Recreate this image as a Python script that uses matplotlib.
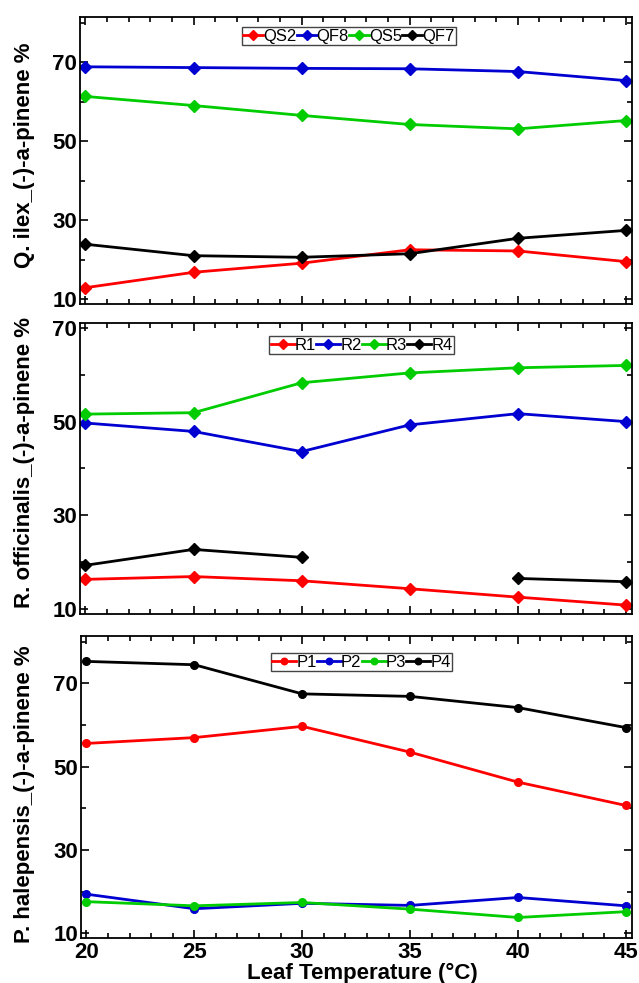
import numpy as np
import matplotlib
matplotlib.use("Agg")
import matplotlib.pyplot as plt
from matplotlib.ticker import MultipleLocator

plt.rcParams['font.family'] = ['Liberation Sans', 'DejaVu Sans']

temps = [20, 25, 30, 35, 40, 45]

# Panel 1: Q. ilex
q_names = ["QS2", "QF8", "QS5", "QF7"]
QS2 = [12.9, 16.8, 19.1, 22.5, 22.2, 19.5]
QF8 = [68.8, 68.6, 68.4, 68.3, 67.6, 65.3]
QS5 = [61.3, 59.0, 56.5, 54.2, 53.1, 55.2]
QF7 = [23.9, 21.0, 20.6, 21.5, 25.4, 27.4]

# Panel 2: R. officinalis
r_names = ["R1", "R2", "R3", "R4"]
R1 = [16.3, 16.9, 16.0, 14.3, 12.5, 10.8]
R2 = [49.7, 47.9, 43.6, 49.3, 51.7, 50.0]
R3 = [51.6, 51.9, 58.3, 60.4, 61.5, 62.0]
R4 = [19.3, 22.7, 21.0, np.nan, 16.5, 15.8]

# Panel 3: P. halepensis
p_names = ["P1", "P2", "P3", "P4"]
P1 = [55.6, 57.0, 59.7, 53.5, 46.3, 40.7]
P2 = [19.4, 15.9, 17.2, 16.7, 18.6, 16.6]
P3 = [17.6, 16.6, 17.4, 15.8, 13.8, 15.2]
P4 = [75.3, 74.5, 67.5, 66.9, 64.2, 59.4]

ylabels = ["Q. ilex_(-)-a-pinene %",
           "R. officinalis_(-)-a-pinene %",
           "P. halepensis_(-)-a-pinene %"]
xlabel = "Leaf Temperature (°C)"

colors = ['#ff0000', '#0000d0', '#00cc00', '#000000']

W, H = 639, 983
fig = plt.figure(figsize=(W / 100, H / 100), dpi=100)

def rect(left, top, right, bottom):
    return [left / W, 1 - bottom / H, (right - left) / W, (bottom - top) / H]

panels = [
    dict(rect=rect(80, 17, 632, 304.3), names=q_names, data=[QS2, QF8, QS5, QF7],
         marker='D', ms=6, ylim=(8.7, 81.4), leg=(0.487, 0.965), ylc=155, hl=1.2),
    dict(rect=rect(80, 323.3, 632, 614), names=r_names, data=[R1, R2, R3, R4],
         marker='D', ms=6, ylim=(8.9, 71.0), leg=(0.51, 0.956), ylc=463, hl=1.45),
    dict(rect=rect(81, 636, 632, 938.3), names=p_names, data=[P1, P2, P3, P4],
         marker='o', ms=5.5, ylim=(8.8, 81.4), leg=(0.509, 0.944), ylc=794, hl=1.45),
]

for i, p in enumerate(panels):
    ax = fig.add_axes(p['rect'])
    for name, vals, c in zip(p['names'], p['data'], colors):
        ax.plot(temps, vals, color=c, lw=2, marker=p['marker'], ms=p['ms'],
                mec=c, mfc=c, label=name)
    ax.set_xlim(19.75, 45.28)
    ax.set_ylim(*p['ylim'])
    ax.xaxis.set_major_locator(MultipleLocator(5))
    ax.xaxis.set_minor_locator(MultipleLocator(1))
    ax.yaxis.set_major_locator(MultipleLocator(20, offset=10))
    ax.yaxis.set_minor_locator(MultipleLocator(10))
    ax.tick_params(which='both', direction='in', top=True, right=True,
                   width=1.2, colors='black')
    ax.tick_params(which='major', length=6)
    ax.tick_params(which='minor', length=3.5)
    ax.tick_params(axis='y', which='major', labelsize=16, pad=2)
    ax.tick_params(axis='x', which='major', labelsize=16, pad=3)
    for lab in ax.get_xticklabels() + ax.get_yticklabels():
        lab.set_fontweight('bold')
    if i < 2:
        ax.tick_params(axis='x', labelbottom=False)
    for s in ax.spines.values():
        s.set_linewidth(1.3)
    leg = ax.legend(loc='upper center', bbox_to_anchor=p['leg'], ncol=4,
                    fontsize=12, handlelength=p['hl'], handletextpad=0.0,
                    columnspacing=0.0, borderpad=0.1, borderaxespad=0,
                    fancybox=False, framealpha=1, edgecolor='#444444',
                    markerscale=0.85)
    leg.get_frame().set_linewidth(1.0)
    fig.text(25 / W, 1 - p['ylc'] / H, ylabels[i], rotation=90, ha='center',
             va='center', fontsize=16, fontweight='bold')

fig.text(362 / W, 1 - 978.5 / H, xlabel, ha='center', va='baseline',
         fontsize=16, fontweight='bold')

fig.savefig("out.png", dpi=100)
